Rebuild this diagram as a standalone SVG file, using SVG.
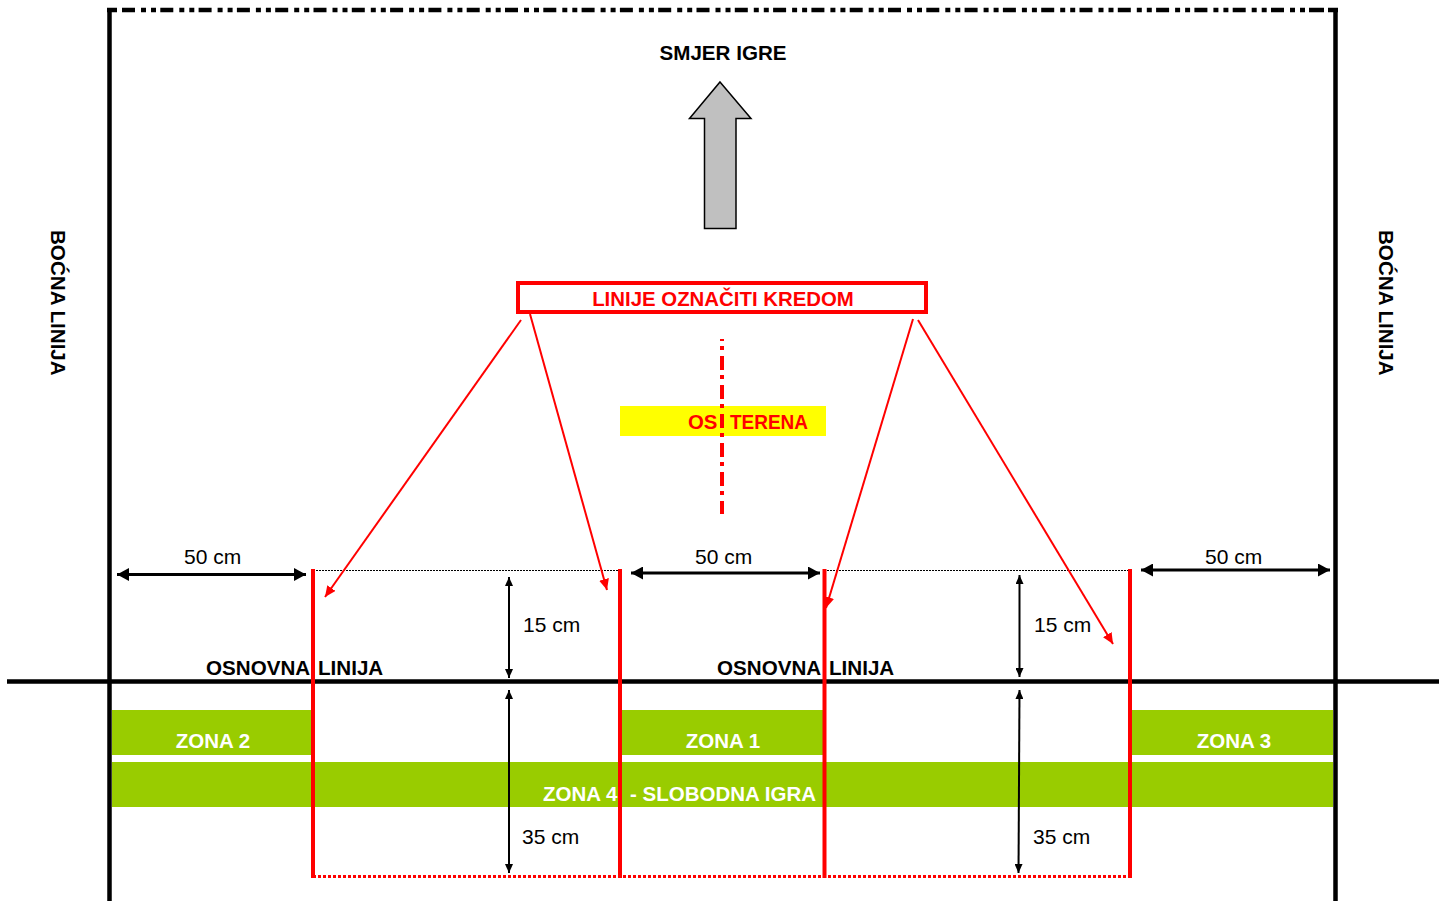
<svg xmlns="http://www.w3.org/2000/svg" width="1446" height="901" viewBox="0 0 1446 901">
<style>
text{font-family:"Liberation Sans",Arial,sans-serif}
.b{font-weight:700;font-size:20.600px;fill:#000}
.r{font-weight:700;font-size:20.400px;fill:#f00}
.w{font-weight:700;font-size:20.500px;fill:#fff}
.m{font-size:21px;fill:#000}
.z{fill:#9c0}
.k{stroke:#000;stroke-width:4.500;fill:none}
.rl{stroke:#f00;stroke-width:4;fill:none}
.ra{stroke:#f00;stroke-width:2;fill:none;marker-end:url(#ah)}
.dim{stroke:#000;stroke-width:2;fill:none;marker-start:url(#ds);marker-end:url(#de)}
.dim2{stroke:#000;stroke-width:3;fill:none;marker-start:url(#bs);marker-end:url(#be)}
</style>
<defs>
<marker id="ah" markerUnits="userSpaceOnUse" markerWidth="12" markerHeight="10" refX="11" refY="5" orient="auto"><path d="M0 0L11 5L0 10Z" fill="#f00"/></marker>
<marker id="de" markerUnits="userSpaceOnUse" markerWidth="10" markerHeight="8" refX="9" refY="4" orient="auto"><path d="M0 0L9 4L0 8Z" fill="#000"/></marker>
<marker id="ds" markerUnits="userSpaceOnUse" markerWidth="10" markerHeight="8" refX="0" refY="4" orient="auto"><path d="M9 0L0 4L9 8Z" fill="#000"/></marker>
<marker id="be" markerUnits="userSpaceOnUse" markerWidth="13" markerHeight="13" refX="12" refY="6.500" orient="auto"><path d="M0 0L12 6.500L0 13Z" fill="#000"/></marker>
<marker id="bs" markerUnits="userSpaceOnUse" markerWidth="13" markerHeight="13" refX="0" refY="6.500" orient="auto"><path d="M12 0L0 6.500L12 13Z" fill="#000"/></marker>
</defs>
<rect width="1446" height="901" fill="#fff"/>
<g id="zones">
<g id="zona2"><rect class="z" x="112" y="710" width="200" height="45"/><text class="w" x="213" y="748" text-anchor="middle">ZONA 2</text></g>
<g id="zona1"><rect class="z" x="622" y="710" width="201" height="45"/><text class="w" x="723" y="748" text-anchor="middle">ZONA 1</text></g>
<g id="zona3"><rect class="z" x="1132" y="710" width="201" height="45"/><text class="w" x="1234" y="748" text-anchor="middle">ZONA 3</text></g>
<g id="zona4"><rect class="z" x="112" y="762" width="1221" height="45"/><text class="w" x="543" y="801">ZONA 4</text><text class="w" x="630" y="801" textLength="186" lengthAdjust="spacingAndGlyphs">- SLOBODNA IGRA</text></g>
</g>
<g id="field">
<path class="k" d="M109.500 8V901M1335.500 8V901M7 681.500H1439"/>
<path class="k" d="M107 10H117M1328 10H1338"/>
<path class="k" d="M122 10H1309" stroke-dasharray="13 6 5 5 5 4.300"/>
<path class="k" d="M1309 10H1324"/>
</g>
<g id="axis-label"><rect x="620" y="406" width="206" height="30" fill="#ff0"/><text class="r" x="688" y="429">OS</text><text class="r" x="730" y="429" textLength="78" lengthAdjust="spacingAndGlyphs">TERENA</text></g>
<g id="connectors">
<path d="M722 339V514" stroke="#f00" stroke-width="4" fill="none" stroke-dasharray="14 5 4 6" stroke-dashoffset="12"/>
<path d="M313 570.500H620M824 570.500H1130" stroke="#000" stroke-width="1" stroke-dasharray="2 1" fill="none"/>
<path d="M313 876.500H1130" stroke="#f00" stroke-width="3" stroke-dasharray="3 2" fill="none"/>
<path class="rl" d="M313 569V878M620 569V878M824.500 569V878M1130 569V878"/>
<path class="ra" d="M521 320L325 597"/>
<path class="ra" d="M530 314L607 590"/>
<path class="ra" d="M913 319L826 608"/>
<path class="ra" d="M918 320L1113 644"/>
<path class="dim2" d="M117 574.500H306"/>
<path class="dim2" d="M631 573H820"/>
<path class="dim2" d="M1141 570H1330"/>
<path class="dim" d="M509 577V678"/>
<path class="dim" d="M509 690V873"/>
<path class="dim" d="M1019.500 575V677"/>
<path class="dim" d="M1019.500 690L1018.500 873"/>
</g>
<g id="arrow-up"><path d="M720 82L751 118.500H736V228.500H704.500V118.500H689.500Z" fill="#c0c0c0" stroke="#000" stroke-width="1.500"/></g>
<g id="title"><text class="b" x="723" y="60" text-anchor="middle">SMJER IGRE</text></g>
<g id="chalk-note"><rect x="518" y="283" width="408" height="29" fill="none" stroke="#f00" stroke-width="4"/><text class="r" x="723" y="306" text-anchor="middle">LINIJE OZNAČITI KREDOM</text></g>
<g id="side-left"><text class="b" transform="translate(51 230) rotate(90)">BOĆNA LINIJA</text></g>
<g id="side-right"><text class="b" transform="translate(1379 230) rotate(90)">BOĆNA LINIJA</text></g>
<g id="baseline-labels"><text class="b" x="206" y="675">OSNOVNA</text><text class="b" x="318" y="675">LINIJA</text><text class="b" x="717" y="675">OSNOVNA</text><text class="b" x="829" y="675">LINIJA</text></g>
<g id="dim-labels">
<text class="m" x="184" y="564">50 cm</text><text class="m" x="695" y="564">50 cm</text><text class="m" x="1205" y="564">50 cm</text>
<text class="m" x="523" y="632">15 cm</text><text class="m" x="1034" y="632">15 cm</text>
<text class="m" x="522" y="844">35 cm</text><text class="m" x="1033" y="844">35 cm</text>
</g>
</svg>
